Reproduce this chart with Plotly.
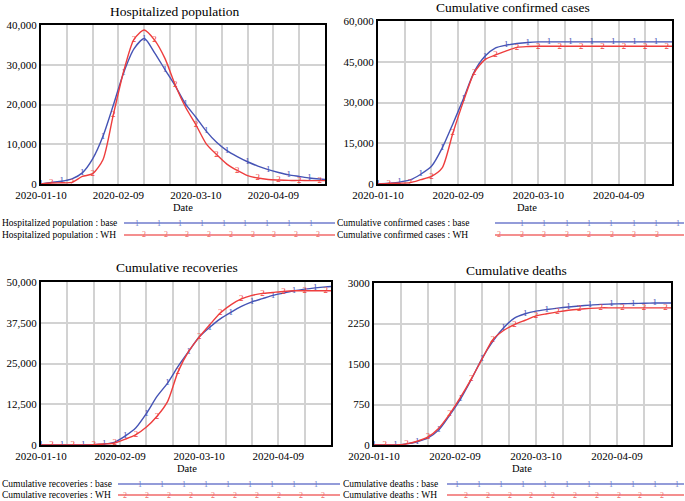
import plotly.graph_objects as go
from datetime import date, timedelta

W, H = 685, 501
START = date(2020, 1, 10)
END = date(2020, 4, 29)
DAY_OFFSETS = list(range(0, 109, 4)) + [110]
DATES = [START + timedelta(days=d) for d in DAY_OFFSETS]
GRID_DATES = [START + timedelta(days=10 * k) for k in range(12)]
X_LABELED = ["2020-01-10", "2020-02-09", "2020-03-10", "2020-04-09"]

# ---- data ----
hosp_base = [0, 400, 700, 1300, 2800, 6300, 12000, 19800, 28000, 34000, 36600, 33000, 28800,
             24700, 20100, 16800, 13300, 10500, 8400, 6900, 5600, 4500, 3600, 2900, 2300,
             1900, 1500, 1250, 1150]
hosp_wh = [0, 250, 300, 400, 1900, 2600, 6100, 17400, 28300, 36400, 38750, 36200, 31600,
           24900, 19300, 14900, 10100, 7400, 5000, 3400, 2100, 1500, 1150, 1000, 900,
           900, 850, 850, 850]
conf_base = [0, 300, 700, 1500, 3600, 6500, 13200, 22100, 31500, 41300, 47000, 50100, 51100,
             51700, 52100, 52300, 52300, 52300, 52300, 52300, 52300, 52300, 52300, 52300,
             52300, 52300, 52300, 52300, 52300]
conf_wh = [0, 200, 300, 500, 1600, 2800, 5900, 18700, 30500, 41000, 45800, 47500, 49000,
           50300, 50600, 50700, 50700, 50700, 50700, 50700, 50700, 50700, 50700, 50700,
           50700, 50700, 50700, 50700, 50700]
rec_base = [0, 0, 0, 0, 50, 100, 300, 900, 2800, 5300, 9700, 14900, 19000, 24100, 28700,
            33100, 36100, 38700, 40700, 42500, 43900, 44900, 45900, 46600, 47300, 47800,
            48200, 48500, 48600]
rec_wh = [0, 0, 0, 0, 0, 100, 300, 600, 1800, 3200, 5500, 8800, 13300, 22500, 28700, 33100,
          36900, 40500, 43000, 44800, 45900, 46500, 46800, 47100, 47300, 47300, 47300,
          47300, 47300]
death_base = [0, 0, 0, 20, 60, 130, 280, 550, 850, 1210, 1600, 1920, 2170, 2350, 2430, 2480,
              2510, 2535, 2555, 2575, 2590, 2605, 2610, 2615, 2620, 2625, 2630, 2630, 2630]
death_wh = [0, 0, 0, 20, 70, 150, 310, 570, 880, 1220, 1590, 1950, 2120, 2230, 2310, 2390,
            2430, 2465, 2495, 2515, 2530, 2540, 2540, 2540, 2540, 2540, 2540, 2540, 2540]

TITLES = ["Hospitalized population", "Cumulative confirmed cases",
          "Cumulative recoveries", "Cumulative deaths"]
SERIES = [(hosp_base, hosp_wh), (conf_base, conf_wh), (rec_base, rec_wh), (death_base, death_wh)]
Y_TICKS = [[0, 10000, 20000, 30000, 40000], [0, 15000, 30000, 45000, 60000],
           [0, 12500, 25000, 37500, 50000], [0, 750, 1500, 2250, 3000]]
Y_FORMAT = [",", ",", ",", "d"]

BLUE = "#4553b5"
RED = "#ee3d3d"
BLUE_L = "#6f7bcc"
RED_L = "#f06a6a"
FONT = "Liberation Serif"


def fx(x):
    return x / W


def fy(y):
    return 1 - y / H


# layout boxes in pixels: (left, right, top, bottom)
BOXES = [(41, 325, 25, 184), (378, 672, 21, 184), (41, 331, 282, 445), (374, 671, 283, 445)]
TITLE_POS = [(175, 12), (513, 7), (177, 267), (516, 270)]
DATE_POS = [(183, 207), (527, 207), (187, 468), (522, 468)]

fig = go.Figure()
layout = dict(width=W, height=H, margin=dict(l=0, r=0, t=0, b=0, pad=0), template="none",
              paper_bgcolor="white", plot_bgcolor="white", showlegend=False,
              font=dict(family=FONT, size=11, color="black"))
annotations = []
shapes = []

for i in range(4):
    sfx = "" if i == 0 else str(i + 1)
    l, r, t, b = BOXES[i]
    layout["xaxis" + sfx] = dict(
        domain=[fx(l), fx(r)], anchor="y" + sfx, type="date", automargin=False,
        range=[START.isoformat(), END.isoformat()],
        tickmode="array", tickvals=[d.isoformat() for d in GRID_DATES],
        ticktext=[d.isoformat() if d.isoformat() in X_LABELED else "" for d in GRID_DATES],
        showgrid=True, gridcolor="#d2d2d2", gridwidth=1.5,
        showline=True, linecolor="black", linewidth=2, mirror=True,
        ticks="", zeroline=False, tickfont=dict(family=FONT, size=11, color="black"))
    layout["yaxis" + sfx] = dict(
        domain=[fy(b), fy(t)], anchor="x" + sfx, automargin=False,
        range=[0, Y_TICKS[i][-1]], tickmode="array", tickvals=Y_TICKS[i],
        tickformat=Y_FORMAT[i],
        showgrid=True, gridcolor="#d2d2d2", gridwidth=1.5,
        showline=True, linecolor="black", linewidth=2, mirror=True,
        ticks="", zeroline=False, tickfont=dict(family=FONT, size=11, color="black"))

    base, wh = SERIES[i]
    n = len(DATES)
    txt_base = ["1" if (k % 2 == 0 and k < n - 1) else "" for k in range(n)]
    txt_wh = ["2" if k % 2 == 1 else "" for k in range(n)]
    for vals, col, txt in ((base, BLUE, txt_base), (wh, RED, txt_wh)):
        fig.add_trace(go.Scatter(
            x=DATES, y=vals, mode="lines+text", text=txt,
            textposition="middle center",
            textfont=dict(family=FONT, size=9, color=col),
            line=dict(color=col, width=1.4, shape="spline", smoothing=0.7),
            xaxis="x" + sfx, yaxis="y" + sfx, hoverinfo="x+y"))

    tx, ty = TITLE_POS[i]
    annotations.append(dict(text=TITLES[i], x=fx(tx), y=fy(ty), xref="paper", yref="paper",
                            showarrow=False, xanchor="center", yanchor="middle",
                            font=dict(family=FONT, size=13.5, color="black")))
    dx, dy = DATE_POS[i]
    annotations.append(dict(text="Date", x=fx(dx), y=fy(dy), xref="paper", yref="paper",
                            showarrow=False, xanchor="center", yanchor="middle",
                            font=dict(family=FONT, size=10.5, color="black")))

# ---- hand-drawn legends ----
LEG = [
    # text_x, line_x0, line_x1, y_base, y_wh, blue_start, blue_n, blue_step, red_start, red_n, red_step
    (0, 124, 335, 223, 235, 137, 9, 21.7, 144, 9, 21.7),
    (335, 495, 684, 223, 235, 522, 8, 22.3, 499, 8, 22.5),
    (0, 118, 340, 484, 495, 140, 9, 22.0, 125, 10, 22.0),
    (341, 447, 684, 484, 495, 457, 11, 22.0, 466, 10, 21.8),
]
for i, (tx, x0, x1, yb, yw, bs, bn, bst, rs, rn, rst) in enumerate(LEG):
    for y, scen, col, mk, st, nn, step in ((yb, "base", BLUE_L, "1", bs, bn, bst),
                                           (yw, "WH", RED_L, "2", rs, rn, rst)):
        annotations.append(dict(text=f"{TITLES[i]} : {scen}", x=fx(tx), y=fy(y),
                                xref="paper", yref="paper", showarrow=False,
                                xanchor="left", yanchor="middle",
                                font=dict(family=FONT, size=9.5, color="black")))
        shapes.append(dict(type="line", xref="paper", yref="paper",
                           x0=fx(x0), x1=fx(x1), y0=fy(y), y1=fy(y),
                           line=dict(color=col, width=1.5)))
        for k in range(nn):
            annotations.append(dict(text=mk, x=fx(st + step * k), y=fy(y), xref="paper",
                                    yref="paper", showarrow=False, xanchor="center",
                                    yanchor="middle",
                                    font=dict(family=FONT, size=8, color=col)))

layout["annotations"] = annotations
layout["shapes"] = shapes
fig.update_layout(**layout)
fig.write_html("out.html", config={"displayModeBar": False},
               post_script="document.body.style.margin='0px';document.body.style.overflow='hidden';")
